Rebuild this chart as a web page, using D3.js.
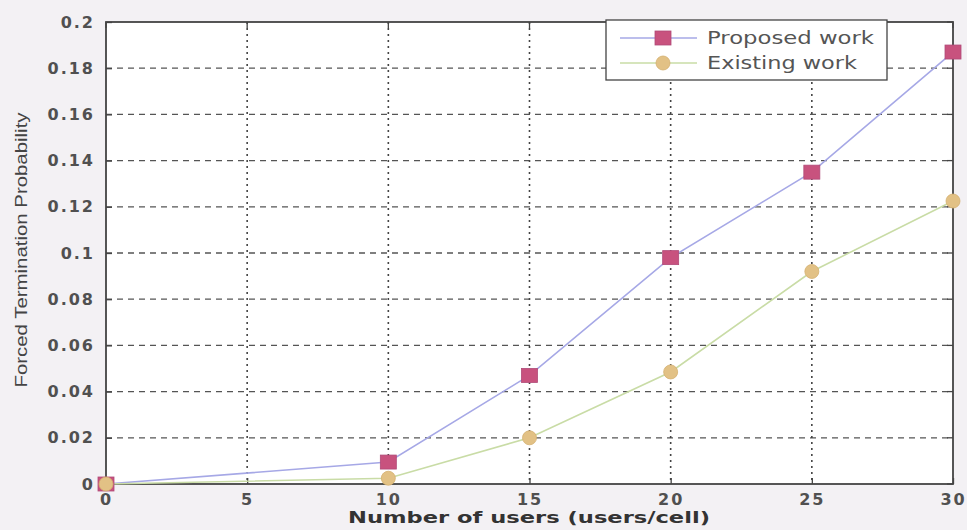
<!DOCTYPE html>
<html><head><meta charset="utf-8">
<script src="https://cdn.jsdelivr.net/npm/d3@7"></script>
<style>
html,body{margin:0;padding:0;background:#f3f1f4;}
svg{display:block;}
</style></head>
<body>
<svg id="c" width="967" height="530"></svg>
<script>
const users = [0, 10, 15, 20, 25, 30];
const proposed = [0, 0.0095, 0.047, 0.098, 0.135, 0.187];
const existing = [0, 0.0025, 0.020, 0.0485, 0.092, 0.1225];
const seriesNames = ["Proposed work", "Existing work"];
const xTicks = [0, 5, 10, 15, 20, 25, 30];
const yTicks = [0, 0.02, 0.04, 0.06, 0.08, 0.1, 0.12, 0.14, 0.16, 0.18, 0.2];
const xTitle = "Number of users (users/cell)";
const yTitle = "Forced Termination Probability";

const svg = d3.select("#c");
const m = {l:106, r:953, t:22, b:484};
const x = d3.scaleLinear().domain([0,30]).range([m.l, m.r]);
const y = d3.scaleLinear().domain([0,0.2]).range([m.b, m.t]);

svg.append("rect").attr("x",m.l).attr("y",m.t).attr("width",m.r-m.l).attr("height",m.b-m.t).attr("fill","#fff");

// gridlines
svg.append("g").selectAll("line").data(yTicks.slice(1,-1)).join("line")
  .attr("x1",m.l).attr("x2",m.r).attr("y1",d=>y(d)).attr("y2",d=>y(d))
  .attr("stroke","#555").attr("stroke-width",1.3).attr("stroke-dasharray","6,5");
svg.append("g").selectAll("line").data(xTicks.slice(1,-1)).join("line")
  .attr("y1",m.t).attr("y2",m.b).attr("x1",d=>x(d)).attr("x2",d=>x(d))
  .attr("stroke","#444").attr("stroke-width",1.6).attr("stroke-dasharray","2,4");

// axes
const tickFont = "'DejaVu Sans', sans-serif";
const xa = svg.append("g").attr("transform",`translate(0,${m.b})`)
  .call(d3.axisBottom(x).tickValues(xTicks).tickSize(-6).tickPadding(10).tickFormat(d3.format("d")));
const ya = svg.append("g").attr("transform",`translate(${m.l},0)`)
  .call(d3.axisLeft(y).tickValues(yTicks).tickSize(-6).tickPadding(11).tickFormat(d=>d===0?"0":d3.format("")(+d.toFixed(2))));
[xa,ya].forEach(a=>{
  a.select(".domain").remove();
  a.selectAll(".tick line").attr("stroke","#444").attr("stroke-width",1.3);
  a.selectAll("text").attr("font-family",tickFont).attr("font-weight","bold")
   .attr("font-size",16).attr("fill","#505050").attr("letter-spacing","2px");
});
// top/right ticks
svg.append("g").selectAll("line").data(xTicks).join("line")
  .attr("x1",d=>x(d)).attr("x2",d=>x(d)).attr("y1",m.t).attr("y2",m.t+6).attr("stroke","#444").attr("stroke-width",1.3);
svg.append("g").selectAll("line").data(yTicks).join("line")
  .attr("x1",m.r).attr("x2",m.r-6).attr("y1",d=>y(d)).attr("y2",d=>y(d)).attr("stroke","#444").attr("stroke-width",1.3);
svg.append("rect").attr("x",m.l).attr("y",m.t).attr("width",m.r-m.l).attr("height",m.b-m.t)
  .attr("fill","none").attr("stroke","#444").attr("stroke-width",1.8);

// lines
const colors = {line:["#a6a8e6","#c9dca6"], mark:["#c8527e","#e2c185"]};
const series = [proposed, existing];
const line = d3.line().x((d,i)=>x(users[i])).y(d=>y(d));
series.forEach((s,k)=>{
  svg.append("path").datum(s).attr("d",line).attr("fill","none")
    .attr("stroke",colors.line[k]).attr("stroke-width",1.6);
});
function marker(g,k,cx,cy){
  if(k===0){
    g.append("rect").attr("x",cx-8).attr("y",cy-7).attr("width",16).attr("height",14)
      .attr("fill",colors.mark[0]).attr("stroke","#b04a78").attr("stroke-width",0.8);
  } else {
    g.append("circle").attr("cx",cx).attr("cy",cy).attr("r",7)
      .attr("fill",colors.mark[1]).attr("stroke","#d4b070").attr("stroke-width",0.8);
  }
}
series.forEach((s,k)=>{
  const g = svg.append("g");
  s.forEach((v,i)=>marker(g,k,x(users[i]),y(v)));
});

// axis titles
svg.append("text").attr("x",348).attr("y",523)
  .attr("font-family",tickFont).attr("font-weight","bold").attr("font-size",16)
  .attr("fill","#333").attr("textLength",362).attr("lengthAdjust","spacingAndGlyphs").text(xTitle);
svg.append("text").attr("transform","translate(27,250) rotate(-90)").attr("text-anchor","middle")
  .attr("font-family","'Liberation Sans',sans-serif").attr("font-size",16)
  .attr("fill","#444").attr("textLength",275).attr("lengthAdjust","spacingAndGlyphs").text(yTitle);

// legend
const lg = svg.append("g");
lg.append("rect").attr("x",606).attr("y",20).attr("width",281).attr("height",60)
  .attr("fill","#fff").attr("stroke","#444").attr("stroke-width",1.3);
const legLen = [167, 150];
seriesNames.forEach((n,k)=>{
  const ly = 38 + k*25;
  lg.append("line").attr("x1",620).attr("x2",697).attr("y1",ly).attr("y2",ly)
    .attr("stroke",colors.line[k]).attr("stroke-width",1.6);
  marker(lg,k,663,ly);
  lg.append("text").attr("x",707).attr("y",ly+6).attr("font-family",tickFont)
    .attr("font-size",17).attr("fill","#555").attr("textLength",legLen[k])
    .attr("lengthAdjust","spacingAndGlyphs").text(n);
});
</script>
</body></html>
